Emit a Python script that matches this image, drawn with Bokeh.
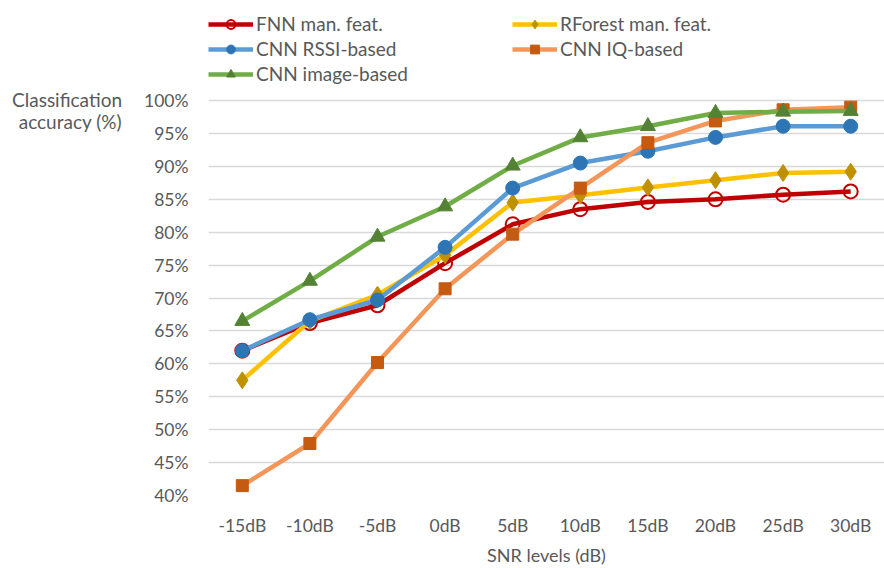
from bokeh.plotting import figure
from bokeh.models import FactorRange, Range1d, Legend, LegendItem, FixedTicker, CustomJSTickFormatter
from bokeh.embed import file_html
from bokeh.resources import INLINE

snr = ["-15dB", "-10dB", "-5dB", "0dB", "5dB", "10dB", "15dB", "20dB", "25dB", "30dB"]
fnn = [62.0, 66.2, 68.9, 75.3, 81.2, 83.5, 84.6, 85.0, 85.7, 86.2]
rforest = [57.5, 66.5, 70.5, 76.5, 84.5, 85.6, 86.8, 87.9, 89.0, 89.2]
cnn_rssi = [62.0, 66.7, 69.7, 77.7, 86.7, 90.5, 92.3, 94.4, 96.1, 96.1]
cnn_iq = [41.5, 47.9, 60.2, 71.4, 79.7, 86.7, 93.6, 96.9, 98.6, 99.0]
cnn_img = [66.5, 72.6, 79.3, 83.9, 90.1, 94.4, 96.1, 98.1, 98.3, 98.4]
y_ticks = [40, 45, 50, 55, 60, 65, 70, 75, 80, 85, 90, 95, 100]
y_title = ["Classification", "accuracy (%)"]

FONT = "Lato"
TXT = "#595959"
NB = "\u00a0"

# frame spans canvas top to the 40% line; top of range leaves room for the legend
p = figure(width=884, height=568, x_range=FactorRange(*snr), y_range=Range1d(40, 115.2),
           output_backend="svg", toolbar_location=None,
           min_border_left=208, min_border_right=0, min_border_top=0, min_border_bottom=69)
p.outline_line_color = None
p.background_fill_color = "white"
p.border_fill_color = "white"

p.xgrid.grid_line_color = None
p.ygrid.grid_line_color = "#D9D9D9"
p.ygrid.grid_line_width = 1.5
p.yaxis.ticker = FixedTicker(ticks=y_ticks)
p.yaxis.formatter = CustomJSTickFormatter(code="return tick + '%';")
for ax in (p.xaxis, p.yaxis):
    ax.axis_line_color = None
    ax.major_tick_line_color = None
    ax.minor_tick_line_color = None
    ax.major_label_text_font = FONT
    ax.major_label_text_font_size = "17.5px"
    ax.major_label_text_color = TXT
p.yaxis.major_label_standoff = 14
p.xaxis.major_label_standoff = 13
p.xaxis.axis_label = "SNR levels (dB)"
p.xaxis.axis_label_text_font = FONT
p.xaxis.axis_label_text_font_size = "18px"
p.xaxis.axis_label_text_font_style = "normal"
p.xaxis.axis_label_text_color = TXT
p.xaxis.axis_label_standoff = 5

ya = p.yaxis[0]
# leading blank lines push the title block down beside the top gridlines
ya.axis_label = "\n".join([NB] * 10 + y_title)
ya.axis_label_text_font = FONT
ya.axis_label_text_font_size = "19px"
ya.axis_label_text_font_style = "normal"
ya.axis_label_text_color = TXT
ya.axis_label_text_line_height = 0.96
ya.axis_label_text_align = "left"
ya.axis_label_standoff = 19
props = ya.properties()
if "axis_label_orientation" in props:
    ya.axis_label_orientation = "horizontal"
if "axis_label_align" in props:
    ya.axis_label_align = "end"

series = [
    ("FNN man. feat.", fnn, "#C00000", "circle", "#C00000", None, 14),
    ("RForest man. feat.", rforest, "#FFC000", "diamond", "#BF9000", "#BF9000", 17),
    ("CNN RSSI-based", cnn_rssi, "#5B9BD5", "circle", "#2E75B6", "#2E75B6", 14),
    ("CNN IQ-based", cnn_iq, "#F4965A", "square", "#C55A11", "#C55A11", 12),
    ("CNN image-based", cnn_img, "#70AD47", "triangle", "#548235", "#548235", 15),
]
items = []
for name, vals, lc, mk, mlc, mfc, sz in series:
    l = p.line(snr, vals, line_color=lc, line_width=4.5)
    if mfc is None:
        s = p.scatter(snr, vals, marker=mk, size=sz, line_color=mlc, line_width=2, fill_color=None)
    else:
        s = p.scatter(snr, vals, marker=mk, size=sz, line_color=mlc, line_width=1, fill_color=mfc)
    items.append(LegendItem(label=name, renderers=[l, s]))

legend = Legend(items=items, location=(0, 410), orientation="horizontal", ncols=2,
                padding=0, margin=0, spacing=2, glyph_width=45, glyph_height=22,
                label_height=22, label_standoff=3, label_width=254,
                label_text_font=FONT, label_text_font_size="19px", label_text_color=TXT,
                border_line_color=None, background_fill_alpha=0)
p.add_layout(legend, "center")

open("out.html", "w").write(file_html(p, INLINE))
